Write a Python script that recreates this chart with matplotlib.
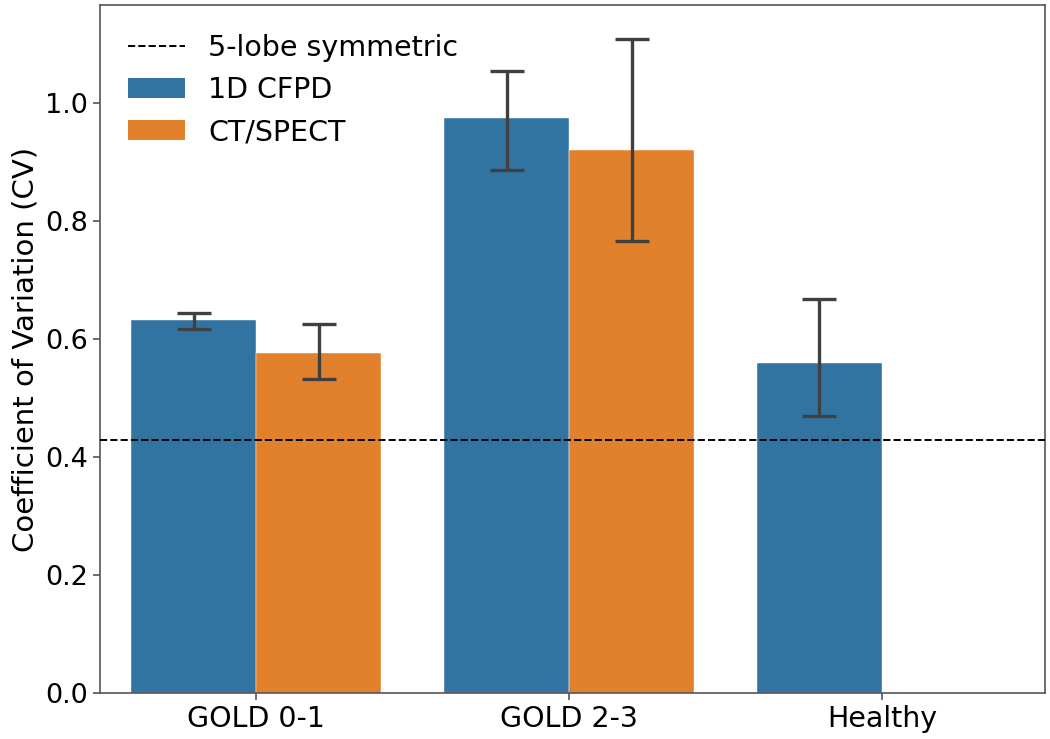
import matplotlib
matplotlib.use("Agg")
import matplotlib.pyplot as plt
import numpy as np
from matplotlib.patches import Patch
from matplotlib.lines import Line2D

categories = ["GOLD 0-1", "GOLD 2-3", "Healthy"]
series_names = ["1D CFPD", "CT/SPECT"]
cfpd_mean = [0.633, 0.975, 0.559]
cfpd_low = [0.618, 0.886, 0.469]
cfpd_high = [0.645, 1.055, 0.668]
ct_mean = [0.576, 0.920, np.nan]
ct_low = [0.532, 0.766, np.nan]
ct_high = [0.625, 1.108, np.nan]
symmetric_cv = 0.429
colors = ["#3274a1", "#e1812c"]

plt.rcParams['font.family'] = ['DejaVu Sans']
fig, ax = plt.subplots(figsize=(10.5, 7.39), dpi=100)
fig.subplots_adjust(left=0.095, right=0.995, top=0.993, bottom=0.062)

x = np.arange(len(categories))
width = 0.4
series = [(cfpd_mean, cfpd_low, cfpd_high), (ct_mean, ct_low, ct_high)]
offsets = [-width / 2, width / 2]
for (m, lo, hi), off, c in zip(series, offsets, colors):
    m = np.array(m, dtype=float)
    lo = np.array(lo, dtype=float)
    hi = np.array(hi, dtype=float)
    valid = ~np.isnan(m)
    ax.bar(x[valid] + off, m[valid], width=width, color=c, edgecolor="white",
           linewidth=0.3, zorder=2)
    yerr = np.vstack([m[valid] - lo[valid], hi[valid] - m[valid]])
    ax.errorbar(x[valid] + off, m[valid], yerr=yerr, fmt="none",
                ecolor="#404040", elinewidth=2.4, capsize=12, capthick=2.4, zorder=3)

ax.axhline(symmetric_cv, color="black", linestyle="--", linewidth=1.4, zorder=4)

ax.set_xlim(-0.5, 2.52)
ax.set_ylim(0, 1.166)
ax.set_xticks(x)
ax.set_xticklabels(categories)
ax.set_yticks([0.0, 0.2, 0.4, 0.6, 0.8, 1.0])
ax.tick_params(width=1.2, length=5, color="#555555")
ax.tick_params(axis="x", labelsize=20.5)
ax.tick_params(axis="y", labelsize=19.5)
ax.set_ylabel("Coefficient of Variation (CV)", fontsize=21)
for s in ax.spines.values():
    s.set_color("#555555")
    s.set_linewidth(1.2)

handles = [Line2D([0], [0], color="black", linestyle="--", linewidth=1.4),
           Patch(facecolor=colors[0]), Patch(facecolor=colors[1])]
labels = ["5-lobe symmetric"] + series_names
ax.legend(handles, labels, loc="upper left", frameon=False, fontsize=20.5,
          borderaxespad=0.6, handlelength=2.0)

fig.savefig("out.png", dpi=100)
